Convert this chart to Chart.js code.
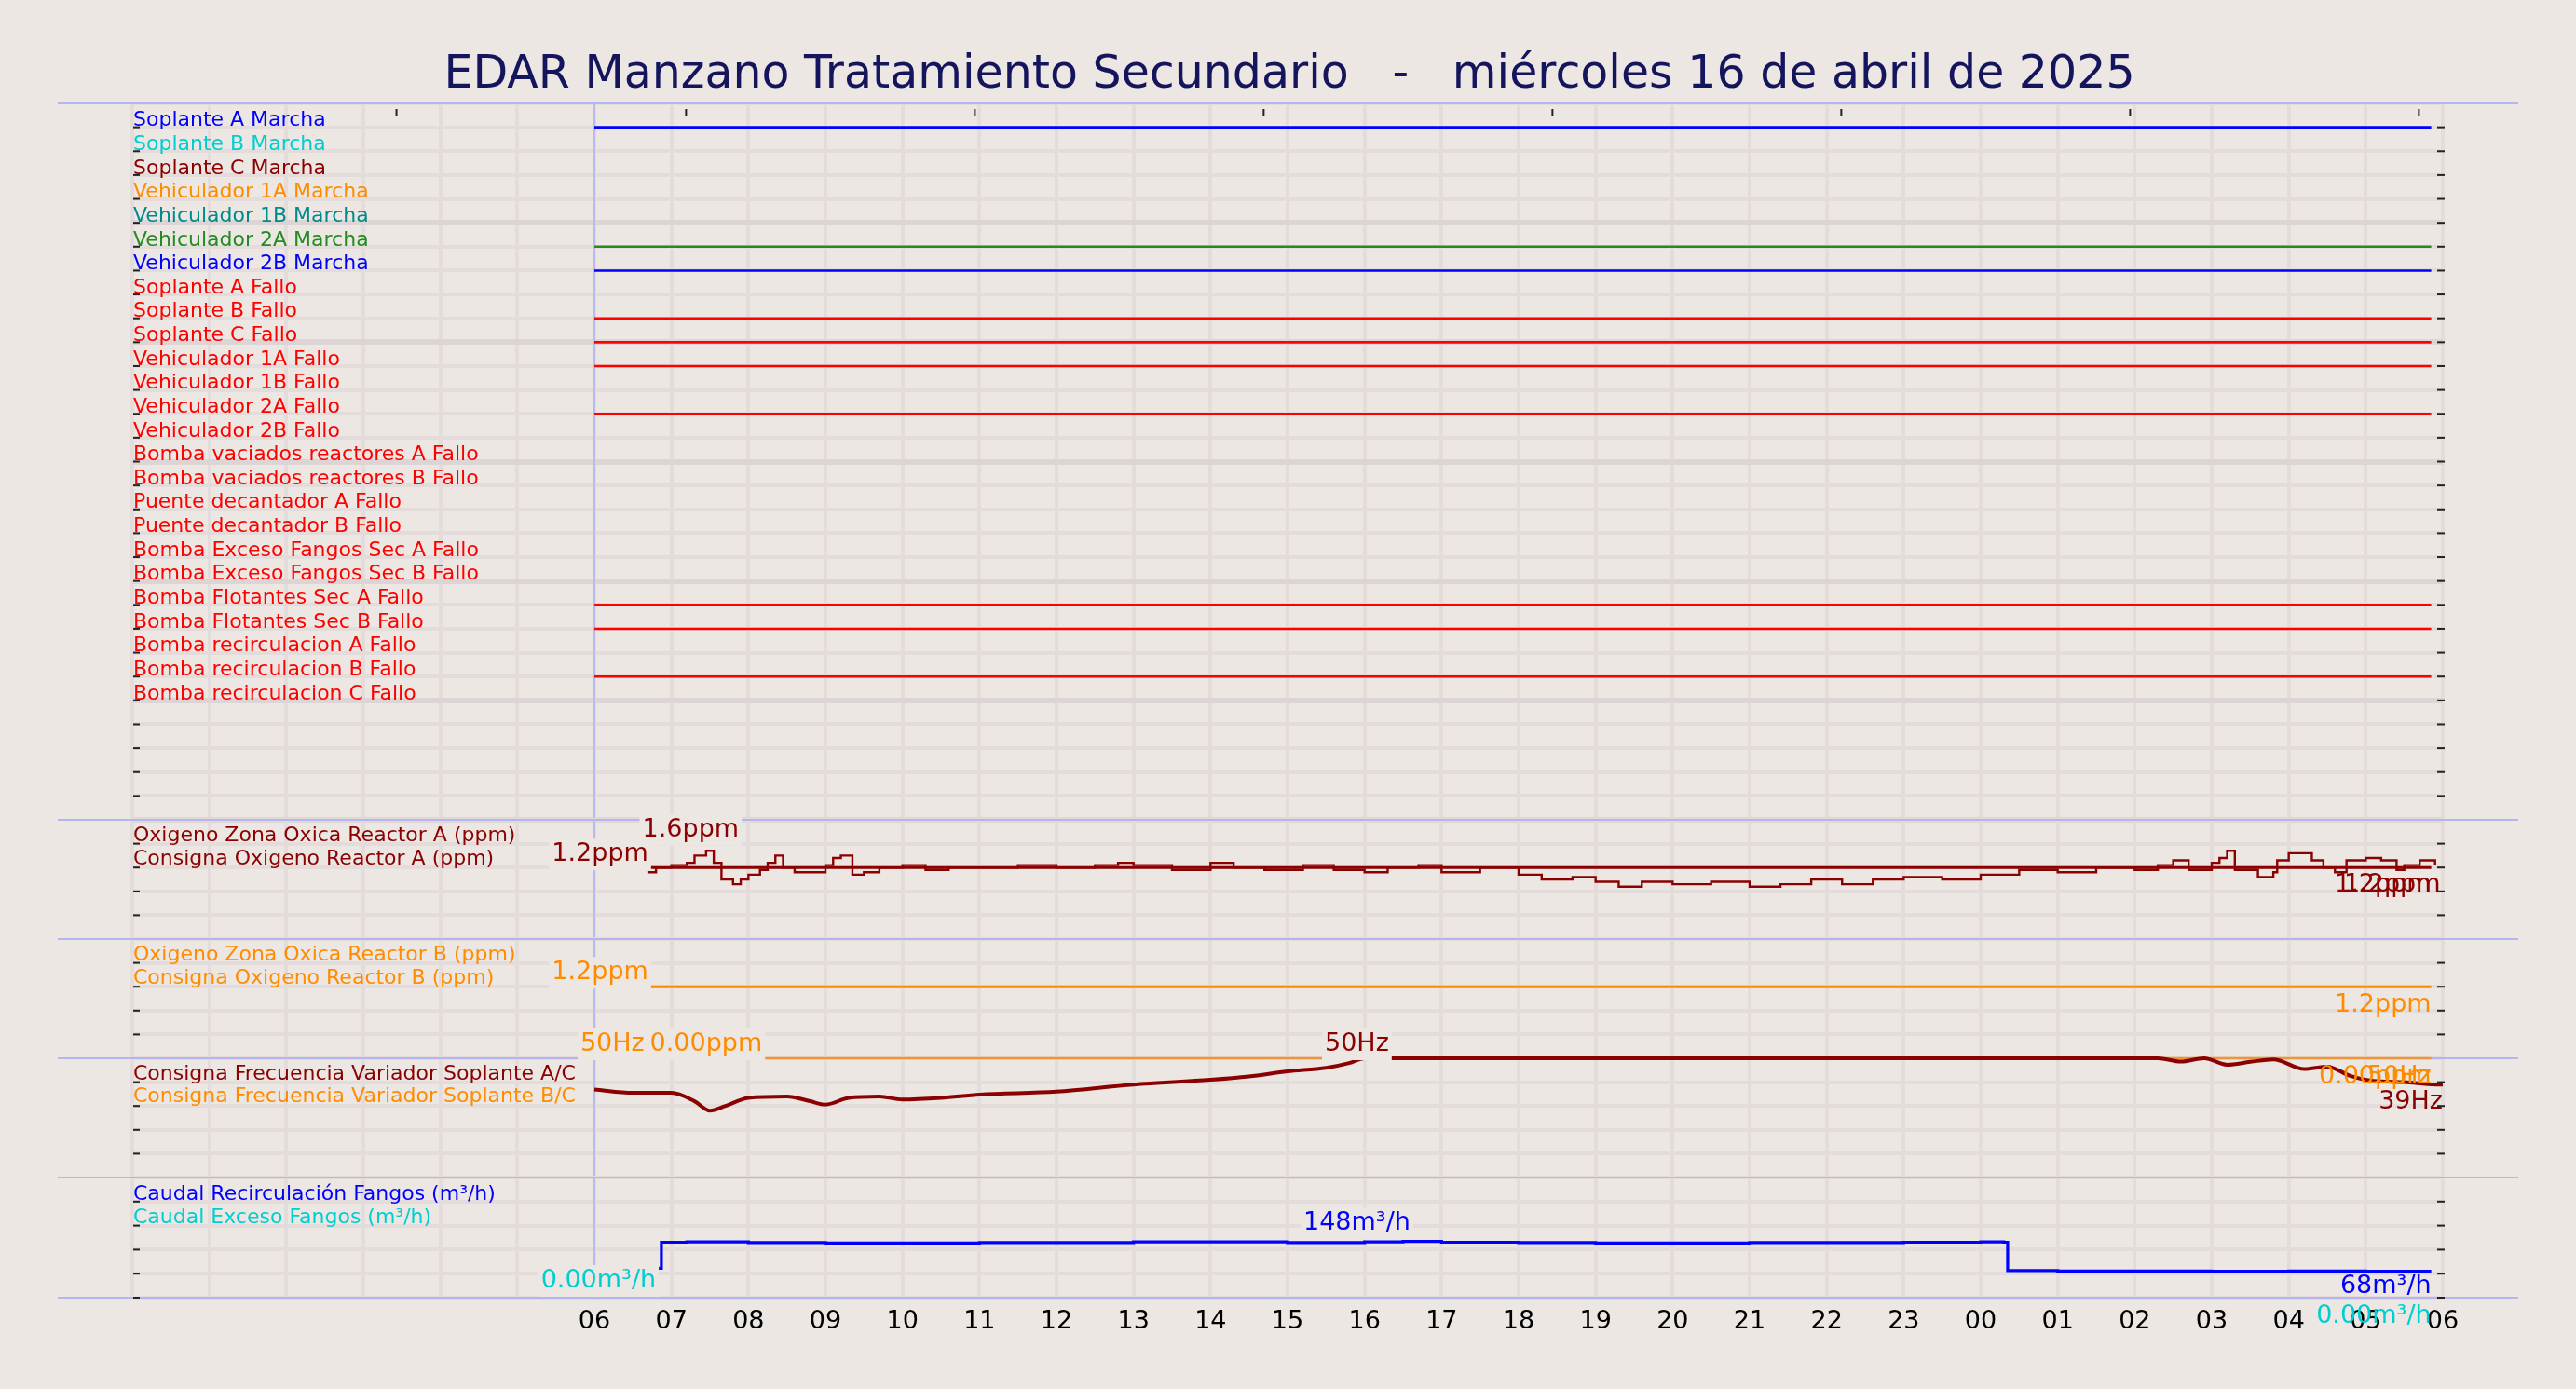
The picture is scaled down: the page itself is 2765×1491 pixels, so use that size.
<!DOCTYPE html>
<html><head><meta charset="utf-8">
<script src="https://cdn.jsdelivr.net/npm/chart.js@4/dist/chart.umd.min.js"></script>
<style>
html,body{margin:0;padding:0;background:#ece7e2;width:2765px;height:1491px;overflow:hidden;font-family:"DejaVu Sans",sans-serif}
canvas{position:absolute;left:0}
#title{position:absolute;left:0;width:2768px;top:49px;text-align:center;font-size:49px;color:#15155e;white-space:pre}
</style></head><body>
<div id="title">EDAR Manzano Tratamiento Secundario   -   miércoles 16 de abril de 2025</div>
<script>
// ---------------- DATA ----------------
const signalLabels = ["Soplante A Marcha","Soplante B Marcha","Soplante C Marcha","Vehiculador 1A Marcha","Vehiculador 1B Marcha","Vehiculador 2A Marcha","Vehiculador 2B Marcha","Soplante A Fallo","Soplante B Fallo","Soplante C Fallo","Vehiculador 1A Fallo","Vehiculador 1B Fallo","Vehiculador 2A Fallo","Vehiculador 2B Fallo","Bomba vaciados reactores A Fallo","Bomba vaciados reactores B Fallo","Puente decantador A Fallo","Puente decantador B Fallo","Bomba Exceso Fangos Sec A Fallo","Bomba Exceso Fangos Sec B Fallo","Bomba Flotantes Sec A Fallo","Bomba Flotantes Sec B Fallo","Bomba recirculacion A Fallo","Bomba recirculacion B Fallo","Bomba recirculacion C Fallo"];
const signalColors = ["#0000ff","#00ced1","#8b0000","#ff8c00","#008b8b","#228b22","#0000ff","#ff0000","#ff0000","#ff0000","#ff0000","#ff0000","#ff0000","#ff0000","#ff0000","#ff0000","#ff0000","#ff0000","#ff0000","#ff0000","#ff0000","#ff0000","#ff0000","#ff0000","#ff0000"];
const activeRows = [0,5,6,8,9,10,12,20,21,23];
const activeStart = 6, activeEnd = 29.85;

const oxyATimes = [6.7,6.8,7.0,7.2,7.3,7.45,7.55,7.65,7.8,7.9,8.0,8.15,8.25,8.35,8.45,8.6,9.0,9.1,9.2,9.35,9.5,9.7,10,10.3,10.6,11,11.5,12,12.5,12.8,13.0,13.5,14,14.3,14.7,15.2,15.6,16,16.3,16.7,17,17.5,18,18.3,18.7,19.0,19.3,19.6,20,20.5,21,21.4,21.8,22.2,22.6,23,23.5,24,24.5,25,25.5,26,26.3,26.5,26.7,27.0,27.1,27.2,27.3,27.6,27.8,27.85,28.0,28.3,28.45,28.6,28.75,29.0,29.2,29.4,29.5,29.7,29.9];
const oxyAValues = [1.1,1.2,1.25,1.3,1.45,1.55,1.3,0.95,0.85,0.95,1.05,1.15,1.3,1.45,1.2,1.1,1.25,1.4,1.45,1.05,1.1,1.2,1.25,1.15,1.2,1.2,1.25,1.2,1.25,1.3,1.25,1.15,1.3,1.2,1.15,1.25,1.15,1.1,1.2,1.25,1.1,1.2,1.05,0.95,1.0,0.9,0.8,0.9,0.85,0.9,0.8,0.85,0.95,0.85,0.95,1.0,0.95,1.05,1.15,1.1,1.2,1.15,1.25,1.35,1.15,1.3,1.4,1.55,1.15,1.0,1.1,1.35,1.5,1.35,1.2,1.1,1.35,1.4,1.35,1.15,1.25,1.35,1.25];
const oxyASetpoint = 1.2, oxyBSetpoint = 1.2;
const oxyStart = 6.7, oxyEnd = 29.85;

const freqACTimes = [6.0,6.5,7.0,7.3,7.5,7.7,8.0,8.5,8.8,9.0,9.3,9.7,10,10.5,11,12,13,14,14.5,15,15.5,15.8,16.0,20,24,26.3,26.6,26.9,27.2,27.5,27.8,28.2,28.5,28.8,29.1,29.5,29.9,30];
const freqACValues = [36.9,35.5,35.5,32,28,30,33.4,34,32,30.6,33.4,34,32.7,33.4,34.8,36,39,41,42.4,44.5,46,48,50,50,50,50,48.6,50,47.3,48.5,49.5,45.5,46.5,42.6,40.5,40,39,39];
const freqBCValue = 50;

const caudalTimes = [6,6.85,6.87,7.2,8,9,10,11,12,13,14,15,16,16.5,17,18,19,20,21,22,23,24,24.3,24.35,25,26,27,28,29,29.85];
const caudalValues = [76,76,143,144,142,141,141,142,142,144,144,142,144,145,143,142,141,141,142,142,143,144,143,70,69,69,68,69,68,68];

const hourLabels = ["06","07","08","09","10","11","12","13","14","15","16","17","18","19","20","21","22","23","00","01","02","03","04","05","06"];
const topTickHours = [3.43,7.19,10.94,14.69,18.44,22.19,25.94,29.69];

// ---------------- HELPERS ----------------
const BG = '#ece7e2', GRID = '#e3dcdb', GRID2 = '#ddd5d5', SEP = '#b4b4f0';
const FONT_LBL = '22px "DejaVu Sans"', FONT_ANN = '27px "DejaVu Sans"';
const M = 45;
function pts(t, v){ return t.map((x,i)=>({x, y:v[i]})); }
function seg(a,b,v){ return [{x:a,y:v},{x:b,y:v}]; }

function drawAnn(ctx, chart, a){
  const xs = chart.scales.x, ys = chart.scales.y;
  const px = xs.getPixelForValue(a.x), py = ys.getPixelForValue(a.v) + a.dy;
  ctx.save(); ctx.font = FONT_ANN; ctx.textBaseline='middle'; ctx.textAlign=a.align;
  const w = ctx.measureText(a.text).width;
  let x0 = a.align==='right'? px-w : a.align==='center'? px-w/2 : px;
  if (a.box !== false){ ctx.fillStyle = BG; ctx.fillRect(x0-3, py-17, w+6, 34); }
  ctx.fillStyle = a.color; ctx.fillText(a.text, px, py);
  ctx.restore();
}

function panelPlugin(p){
  return {id:'pp'+p.id,
  beforeDatasetsDraw(chart){
    const ctx = chart.ctx, ca = chart.chartArea, xs = chart.scales.x, ys = chart.scales.y;
    ctx.save();
    ctx.strokeStyle = SEP; ctx.lineWidth = 2;
    ctx.beginPath(); ctx.moveTo(62, ca.top); ctx.lineTo(2703, ca.top); ctx.stroke();
    if (p.bottomSep){ ctx.beginPath(); ctx.moveTo(62, ca.bottom); ctx.lineTo(2703, ca.bottom); ctx.stroke(); }
    const x6 = xs.getPixelForValue(6);
    ctx.strokeStyle = '#b8baf2'; ctx.lineWidth = 2;
    ctx.beginPath(); ctx.moveTo(x6, ca.top); ctx.lineTo(x6, ca.bottom); ctx.stroke();
    ctx.strokeStyle = '#222'; ctx.lineWidth = 2;
    ys.ticks.forEach(t=>{ const y = ys.getPixelForValue(t.value);
      if (y < ca.top+3) return;
      ctx.beginPath(); ctx.moveTo(2616,y); ctx.lineTo(2624,y); ctx.stroke();
      ctx.beginPath(); ctx.moveTo(143,y); ctx.lineTo(150,y); ctx.stroke(); });
    if (p.topTicks){ p.topTicks.forEach(h=>{ const x = xs.getPixelForValue(h);
      ctx.beginPath(); ctx.moveTo(x, ca.top+6); ctx.lineTo(x, ca.top+14); ctx.stroke(); }); }
    ctx.restore();
  },
  afterDraw(chart){
    const ctx = chart.ctx, ca = chart.chartArea, xs = chart.scales.x, ys = chart.scales.y;
    ctx.save();
    ctx.font = FONT_LBL; ctx.textBaseline='middle'; ctx.textAlign='left';
    p.labels.forEach(l=>{ ctx.fillStyle = l.color; ctx.fillText(l.text, 143, ys.getPixelForValue(l.row) + l.dy); });
    if (p.xLabels){
      ctx.font = '27px "DejaVu Sans"'; ctx.fillStyle = '#000'; ctx.textAlign = 'center';
      hourLabels.forEach((t,i)=>{ ctx.fillText(t, xs.getPixelForValue(6+i), ca.bottom+26); });
    }
    ctx.restore();
    (p.anns||[]).forEach(a=>drawAnn(ctx, chart, a));
  }};
}

function makePanel(p){
  const c = document.createElement('canvas');
  c.width = 2765; c.height = p.height + 2*M + (p.extraBottom||0);
  c.style.top = (p.top - M)+'px';
  document.body.appendChild(c);
  const hourTicks = []; for (let h=0; h<=30; h++) hourTicks.push(h);
  return new Chart(c, {
    type:'line',
    data:{datasets:p.datasets.map(d=>Object.assign({pointRadius:0, fill:false, clip:8}, d))},
    options:{
      responsive:false, animation:false, devicePixelRatio:1,
      layout:{padding:{left:142, right:143, top:M, bottom:M+(p.extraBottom||0)}},
      plugins:{legend:{display:false}, tooltip:{enabled:false}},
      scales:{
        x:{type:'linear', min:0, max:30, afterFit:s=>{s.height=0;},
           afterBuildTicks:s=>{s.ticks = hourTicks.map(v=>({value:v}));},
           border:{display:false},
           grid:{color:GRID, lineWidth:4, drawTicks:false},
           ticks:{display:false}},
        y:{type:'linear', min:p.ymin, max:p.ymax, reverse:!!p.reverse,
           afterFit:s=>{s.width=0;},
           afterBuildTicks:s=>{s.ticks = p.yticks.map(v=>({value:v}));},
           border:{display:false},
           grid:{color:ctx=> (p.darkRow && p.darkRow(ctx.tick && ctx.tick.value)) ? GRID2 : GRID, lineWidth:ctx=> (p.darkRow && p.darkRow(ctx.tick && ctx.tick.value)) ? 6 : 4, drawTicks:false},
           ticks:{display:false}}
      }
    },
    plugins:[panelPlugin(p)]
  });
}

// ---------------- PANELS ----------------
const topRows = []; for (let r=-1; r<=29; r++) topRows.push(r);
makePanel({id:1, top:111, height:769, ymin:-1, ymax:29, reverse:true, yticks:topRows,
  darkRow:v=> v>=0 && v%5===4, topTicks:topTickHours,
  labels:signalLabels.map((t,i)=>({text:t, color:signalColors[i], row:i, dy:-7})),
  datasets:activeRows.map(r=>({data:seg(activeStart, activeEnd, r), borderColor:signalColors[r], borderWidth:2.6}))});

const oxyTicks = [2.2,1.7,1.2,0.7,0.2,-0.3];
makePanel({id:2, top:880, height:128, ymin:-0.3, ymax:2.2, yticks:oxyTicks,
  labels:[{text:"Oxigeno Zona Oxica Reactor A (ppm)", color:'#8b0000', row:1.7, dy:-8},
          {text:"Consigna Oxigeno Reactor A (ppm)", color:'#8b0000', row:1.2, dy:-9}],
  datasets:[{data:seg(oxyStart, oxyEnd, oxyASetpoint), borderColor:'#8b0000', borderWidth:3},
            {data:pts(oxyATimes, oxyAValues), borderColor:'#8b0000', borderWidth:2.4, stepped:true}],
  anns:[{x:6.7, v:1.2, dy:-14, align:'right', text:'1.2ppm', color:'#8b0000'},
        {x:7.25, v:1.6, dy:-20, align:'center', text:'1.6ppm', color:'#8b0000'},
        {x:29.85, v:1.2, dy:19, align:'right', text:'1.2ppm', color:'#8b0000', box:false},
        {x:29.97, v:1.2, dy:19, align:'right', text:'1.2ppm', color:'#8b0000', box:false}]});

makePanel({id:3, top:1008, height:128, ymin:-0.3, ymax:2.2, yticks:oxyTicks,
  labels:[{text:"Oxigeno Zona Oxica Reactor B (ppm)", color:'#ff8c00', row:1.7, dy:-8},
          {text:"Consigna Oxigeno Reactor B (ppm)", color:'#ff8c00', row:1.2, dy:-9}],
  datasets:[{data:seg(oxyStart, oxyEnd, oxyBSetpoint), borderColor:'#ff8c00', borderWidth:3}],
  anns:[{x:6.7, v:1.2, dy:-15, align:'right', text:'1.2ppm', color:'#ff8c00'},
        {x:29.85, v:1.2, dy:20, align:'right', text:'1.2ppm', color:'#ff8c00', box:false}]});

makePanel({id:4, top:1136, height:128, ymin:0, ymax:50, yticks:[50,40,30,20,10,0],
  labels:[{text:"Consigna Frecuencia Variador Soplante A/C", color:'#8b0000', row:40, dy:-8},
          {text:"Consigna Frecuencia Variador Soplante B/C", color:'#ff8c00', row:30, dy:-10}],
  datasets:[{data:pts(freqACTimes, freqACValues), borderColor:'#8b0000', borderWidth:4, cubicInterpolationMode:'monotone'},
            {data:seg(6.0, 29.85, freqBCValue), borderColor:'rgba(255,140,0,0.75)', borderWidth:2.5}],
  anns:[{x:6.65, v:50, dy:-15, align:'right', text:'50Hz', color:'#ff8c00'},
        {x:6.72, v:50, dy:-15, align:'left', text:'0.00ppm', color:'#ff8c00'},
        {x:15.9, v:50, dy:-15, align:'center', text:'50Hz', color:'#8b0000'},
        {x:30, v:39, dy:19, align:'right', text:'39Hz', color:'#8b0000', box:false},
        {x:29.85, v:50, dy:20, align:'right', text:'0.00ppm', color:'#ff8c00', box:false},
        {x:29.85, v:50, dy:20, align:'right', text:'50Hz', color:'#ff8c00', box:false}]});

makePanel({id:5, top:1264, height:129, extraBottom:60, ymin:0, ymax:310, yticks:[310,248,186,124,62,0],
  bottomSep:true, xLabels:true,
  labels:[{text:"Caudal Recirculación Fangos (m³/h)", color:'#0000ff', row:248, dy:-8},
          {text:"Caudal Exceso Fangos (m³/h)", color:'#00ced1', row:186, dy:-8}],
  datasets:[{data:pts(caudalTimes, caudalValues), borderColor:'#0000ff', borderWidth:3.2, stepped:true}],
  anns:[{x:6.8, v:0, dy:-18, align:'right', text:'0.00m³/h', color:'#00ced1'},
        {x:15.9, v:148, dy:-18, align:'center', text:'148m³/h', color:'#0000ff'},
        {x:29.85, v:68, dy:16, align:'right', text:'68m³/h', color:'#0000ff', box:false},
        {x:29.85, v:0, dy:20, align:'right', text:'0.00m³/h', color:'#00ced1', box:false}]});
</script>
</body></html>
